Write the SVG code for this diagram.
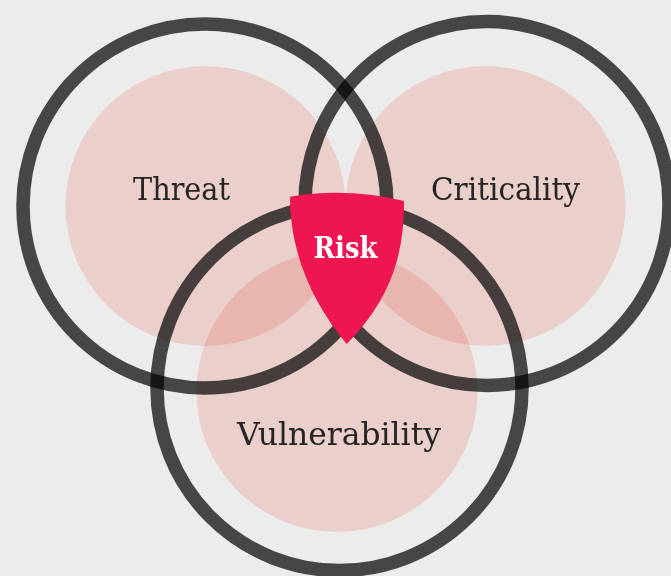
<svg xmlns="http://www.w3.org/2000/svg" width="671" height="576" viewBox="0 0 671 576">
  <style>
    .halo { fill: #fde0dc; mix-blend-mode: multiply; }
    .ring { fill: none; stroke: #000; stroke-opacity: 0.7; stroke-width: 13.5; }
    .label { font-family: "DejaVu Serif", "Liberation Serif", serif; font-size: 32px; fill: #262424; }
    .risk-label { font-family: "DejaVu Serif", "Liberation Serif", serif; font-weight: bold; font-size: 30px; fill: #ffffff; }
  </style>
  <rect width="671" height="576" fill="#ececec"/>

  <!-- Threat -->
  <g id="threat">
    <circle class="halo" cx="205.5" cy="206" r="140"/>
    <circle class="ring" cx="205" cy="206" r="182"/>
    <text class="label" x="133" y="200" textLength="97" lengthAdjust="spacingAndGlyphs">Threat</text>
  </g>

  <!-- Criticality -->
  <g id="criticality">
    <circle class="halo" cx="485.5" cy="206" r="140"/>
    <circle class="ring" cx="487" cy="203.5" r="182"/>
    <text class="label" x="431" y="200" textLength="149" lengthAdjust="spacingAndGlyphs">Criticality</text>
  </g>

  <!-- Vulnerability -->
  <g id="vulnerability">
    <circle class="halo" cx="337" cy="391.5" r="140.5"/>
    <circle class="ring" cx="339.5" cy="388" r="182.5"/>
    <text class="label" x="237" y="445" textLength="204" lengthAdjust="spacingAndGlyphs">Vulnerability</text>
  </g>

  <!-- Risk shield -->
  <g id="risk">
    <path d="M290 196.7 C290 250 310 300 346.7 344 C390 300 404.5 255 404 201 Q347 187.2 290 196.7 Z" fill="#ed1651"/>
    <text class="risk-label" x="313.5" y="258" textLength="64" lengthAdjust="spacingAndGlyphs">Risk</text>
  </g>
</svg>
